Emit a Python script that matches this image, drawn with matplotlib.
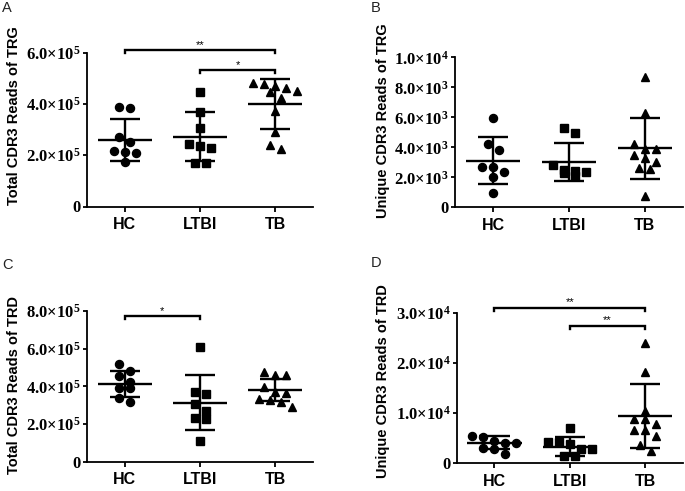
import matplotlib
matplotlib.use('Agg')
import matplotlib.pyplot as plt
import numpy as np

plt.rcParams['mathtext.fontset'] = 'custom'
plt.rcParams['mathtext.rm'] = 'Liberation Serif:bold'
plt.rcParams['mathtext.bf'] = 'Liberation Serif:bold'
plt.rcParams['mathtext.it'] = 'Liberation Serif:bold'

FIG_W, FIG_H = 685, 491
groups = ['HC', 'LTBI', 'TB']

# ---- Panel A: Total CDR3 Reads of TRG ----
a_hc = [3.86e5, 3.84e5, 2.70e5, 2.50e5, 2.16e5, 2.11e5, 2.07e5, 1.72e5]
a_ltbi = [4.45e5, 3.69e5, 3.07e5, 2.43e5, 2.37e5, 2.29e5, 1.70e5, 1.68e5]
a_tb = [4.80e5, 4.76e5, 4.69e5, 4.60e5, 4.51e5, 4.47e5, 4.21e5, 3.73e5, 2.91e5, 2.40e5, 2.23e5]
a_mean = [2.59e5, 2.72e5, 3.98e5]
a_sd = [0.80e5, 0.96e5, 0.97e5]
a_ticks = [0, 2e5, 4e5, 6e5]
a_ticklabels = ['0', '2.0×10^5', '4.0×10^5', '6.0×10^5']

# ---- Panel B: Unique CDR3 Reads of TRG ----
b_hc = [5.97e3, 4.20e3, 3.82e3, 2.71e3, 2.71e3, 2.37e3, 2.00e3, 0.93e3]
b_ltbi = [5.27e3, 4.93e3, 2.82e3, 2.49e3, 2.42e3, 2.33e3, 2.27e3, 2.11e3]
b_tb = [8.67e3, 6.27e3, 4.22e3, 3.87e3, 3.87e3, 3.49e3, 3.27e3, 3.04e3, 2.60e3, 2.53e3, 0.75e3]
b_mean = [3.11e3, 3.04e3, 3.93e3]
b_sd = [1.55e3, 1.26e3, 2.05e3]
b_ticks = [0, 2e3, 4e3, 6e3, 8e3, 1e4]
b_ticklabels = ['0', '2.0×10^3', '4.0×10^3', '6.0×10^3', '8.0×10^3', '1.0×10^4']

# ---- Panel C: Total CDR3 Reads of TRD ----
c_hc = [5.17e5, 4.83e5, 4.55e5, 4.25e5, 3.93e5, 3.93e5, 3.40e5, 3.15e5]
c_ltbi = [6.07e5, 3.68e5, 3.58e5, 3.06e5, 2.71e5, 2.30e5, 2.27e5, 1.12e5]
c_tb = [4.75e5, 4.60e5, 4.60e5, 3.98e5, 3.68e5, 3.63e5, 3.31e5, 3.28e5, 3.15e5, 2.92e5]
c_mean = [4.11e5, 3.13e5, 3.81e5]
c_sd = [0.68e5, 1.46e5, 0.59e5]
c_ticks = [0, 2e5, 4e5, 6e5, 8e5]
c_ticklabels = ['0', '2.0×10^5', '4.0×10^5', '6.0×10^5', '8.0×10^5']

# ---- Panel D: Unique CDR3 Reads of TRD ----
d_hc = [5.44e3, 5.18e3, 4.50e3, 4.10e3, 4.10e3, 2.99e3, 2.79e3, 1.85e3]
d_ltbi = [7.09e3, 4.20e3, 4.20e3, 3.78e3, 2.85e3, 2.85e3, 1.51e3, 1.51e3]
d_tb = [24.0e3, 18.25e3, 10.48e3, 8.76e3, 8.76e3, 7.83e3, 6.63e3, 6.63e3, 5.44e3, 3.65e3, 2.45e3]
d_mean = [4.10e3, 3.31e3, 9.42e3]
d_sd = [1.25e3, 1.87e3, 6.30e3]
d_ticks = [0, 1e4, 2e4, 3e4]
d_ticklabels = ['0', '1.0×10^4', '2.0×10^4', '3.0×10^4']

# significance brackets: (group_from, group_to, height, label)
a_sig = [(0, 2, 6.10e5, '**'), (1, 2, 5.32e5, '*')]
b_sig = []
c_sig = [(0, 1, 7.74e5, '*')]
d_sig = [(0, 2, 31.0e3, '**'), (1, 2, 27.4e3, '**')]

SANS = ['Liberation Sans', 'DejaVu Sans']
SERIF = ['Liberation Serif', 'DejaVu Serif']

fig = plt.figure(figsize=(FIG_W / 100, FIG_H / 100), dpi=100)


def px_rect(left, right, top, bottom):
    return [left / FIG_W, 1 - bottom / FIG_H, (right - left) / FIG_W, (bottom - top) / FIG_H]


def fmt_label(s):
    if s == '0':
        return s
    mant, exp = s.split('×10^')
    return r'$\mathbf{' + mant + r'}{\times}\mathbf{10}^{\mathbf{' + exp + r'}}$'


def swarm(vals, ppu, step, diam_px=7.5):
    vals = np.asarray(vals, dtype=float)
    order = np.argsort(-vals)
    offs = np.zeros(len(vals))
    clusters = []
    cur = [order[0]]
    for k in order[1:]:
        if (vals[cur[0]] - vals[k]) * ppu < diam_px:
            cur.append(k)
        else:
            clusters.append(cur)
            cur = [k]
    clusters.append(cur)
    for cl in clusters:
        n = len(cl)
        for j, k in enumerate(cl):
            offs[k] = (j - (n - 1) / 2) * step
    return offs


def panel(rect, data, means, sds, ticks, ticklabels, sig):
    ax = fig.add_axes(rect)
    ymax = ticks[-1]
    ax.set_xlim(-0.5, 2.5)
    ax.set_ylim(0, ymax)
    h_px = rect[3] * FIG_H
    w_px = rect[2] * FIG_W
    ppu = h_px / ymax
    xppu = w_px / 3.0
    step = 11.0 / xppu
    markers = ['o', 's', '^']
    msizes = [5.8, 5.4, 6.4]
    for i, vals in enumerate(data):
        offs = swarm(vals, ppu, step)
        ax.plot(i + offs, vals, ls='none', marker=markers[i], ms=msizes[i],
                color='black', mec='black', clip_on=False, zorder=3)
        m, s = means[i], sds[i]
        kw = dict(color='black', lw=1.7, solid_capstyle='butt', zorder=4, clip_on=False)
        ax.plot([i - 0.36, i + 0.36], [m, m], **kw)
        ax.plot([i, i], [m - s, m + s], **kw)
        ax.plot([i - 0.2, i + 0.2], [m + s, m + s], **kw)
        ax.plot([i - 0.2, i + 0.2], [m - s, m - s], **kw)
    t = 3.5 / ppu
    for g1, g2, y, lab in sig:
        ax.plot([g1, g1, g2, g2], [y - t, y, y, y - t], color='black', lw=1.7,
                clip_on=False, solid_joinstyle='miter')
        ax.text((g1 + g2) / 2, y + 0.3 / ppu, lab, ha='center', va='bottom',
                fontsize=8, family=SANS)
    for sp in ['top', 'right']:
        ax.spines[sp].set_visible(False)
    for sp in ['left', 'bottom']:
        ax.spines[sp].set_linewidth(1.3)
    ax.set_yticks(ticks)
    ax.set_yticklabels([fmt_label(s) for s in ticklabels], family=SERIF,
                       fontweight='bold', fontsize=12)
    ax.set_xticks(range(3))
    ax.set_xticklabels(groups, family=SANS, fontweight='bold', fontsize=11.5)
    ax.tick_params(axis='y', length=3, width=1.3, pad=1.5)
    ax.tick_params(axis='x', length=3.5, width=1.3, pad=4)
    ax.set_facecolor('none')
    return ax


panel(px_rect(87, 313, 52.5, 206.5), [a_hc, a_ltbi, a_tb], a_mean, a_sd, a_ticks, a_ticklabels, a_sig)
panel(px_rect(455, 683, 57.3, 207.3), [b_hc, b_ltbi, b_tb], b_mean, b_sd, b_ticks, b_ticklabels, b_sig)
panel(px_rect(87, 313, 311, 461.7), [c_hc, c_ltbi, c_tb], c_mean, c_sd, c_ticks, c_ticklabels, c_sig)
panel(px_rect(456.7, 683, 312.7, 463.3), [d_hc, d_ltbi, d_tb], d_mean, d_sd, d_ticks, d_ticklabels, d_sig)

ylabels = [('Total CDR3 Reads of TRG', 14.5, 116),
           ('Unique CDR3 Reads of TRG', 383, 121),
           ('Total CDR3 Reads of TRD', 14.5, 385),
           ('Unique CDR3 Reads of TRD', 383, 381)]
for txt, x, y in ylabels:
    fig.text(x / FIG_W, 1 - y / FIG_H, txt, rotation=90, ha='center', va='center',
             fontsize=10.5, fontweight='bold', family=SANS)

letters = [('A', 2, 1), ('B', 371, 1), ('C', 2, 258), ('D', 371, 256)]
for txt, x, y in letters:
    fig.text(x / FIG_W, 1 - y / FIG_H, txt, ha='left', va='top', fontsize=10.5,
             color='#222222', family=SANS)

fig.savefig('out.png', dpi=100)
